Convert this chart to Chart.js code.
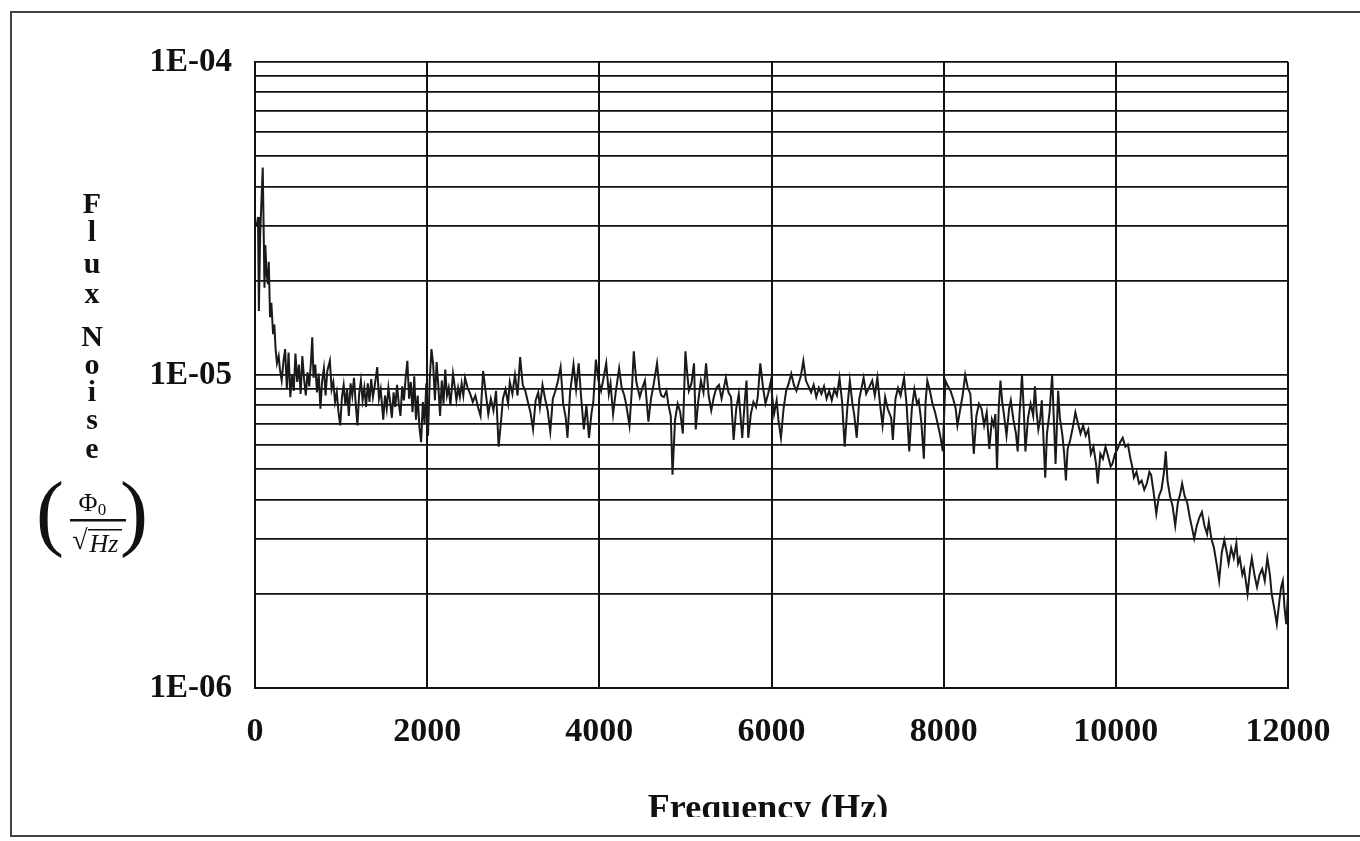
<!DOCTYPE html>
<html>
<head>
<meta charset="utf-8">
<script src="https://cdn.jsdelivr.net/npm/chart.js@4/dist/chart.umd.min.js"></script>
<style>
html,body{margin:0;padding:0;background:#fff;}
canvas{display:block;}
</style>
</head>
<body>
<canvas id="c" width="1360" height="841"></canvas>
<script>
// Frequency (Hz) of each read sample
const freqHz = [
20,35,45,60,75,90,100,110,120,135,150,160,175,190,210,225,240,255,275,290,310,330,350,370,390,410,430,450,470,490,510,530,550,570,590,610,630,650,665,680,700,720,740,760,780,800,820,840,870,890,910,930,950,970,990,1010,1030,1050,1070,1090,1110,1130,1150,1170,1190,1210,1230,1250,1270,1290,1310,1330,1350,1370,1390,1420,1440,1460,1490,1510,1530,1550,1570,1590,1610,1630,1650,1670,1690,1710,1730,1750,1770,1790,1810,1830,1850,1870,1890,1910,1930,1950,1970,1990,2010,2030,2050,2070,2090,2110,2130,2150,2170,2190,2210,2230,2250,2270,2300,2320,2340,2360,2380,2400,2420,2440,
2470,2500,2530,2560,2590,2620,2650,2680,2710,2740,2770,2800,2830,2860,2880,2910,2940,2960,2990,3020,3050,3080,3110,3140,3170,3200,3230,3260,3290,3310,3340,3370,3400,3430,3460,3490,3520,3550,3580,3610,3630,3660,3680,3700,3730,3760,3790,3820,3850,3880,3910,3930,3960,3990,4020,4050,4080,4110,4130,4160,4190,4230,4260,4290,4310,4350,4380,4400,4430,4470,4500,4530,4570,4600,4630,4670,4700,4720,4750,
4780,4800,4830,4850,4880,4910,4940,4970,5000,5020,5040,5070,5100,5120,5150,5180,5210,5240,5270,5300,5330,5360,5390,5420,5450,5470,5500,5530,5560,5590,5620,5640,5660,5690,5710,5730,5760,5790,5820,5840,5870,5900,5930,5960,5990,6030,6060,6080,6110,6140,6170,6200,6230,6260,6290,6320,6340,6370,6400,6430,6460,6490,6520,6550,6580,6610,6640,6670,6700,6730,6760,6790,6820,6850,6880,6910,6940,6960,6990,7020,7050,7070,7100,7140,7170,7200,7230,
7260,7290,7320,7350,7390,7410,7440,7470,7500,7540,7570,7600,7630,7660,7690,7710,7740,7770,7790,7810,7840,7870,7900,7930,7960,7990,8020,8050,8080,8110,8140,8160,8190,8220,8250,8280,8310,8350,8380,8410,8440,8470,8500,8530,8560,8580,8600,8620,8640,8660,8680,8700,8730,8760,8780,8810,8840,8860,8880,8910,8930,8950,8980,9010,9040,9060,9080,9100,9120,9140,9160,9180,9200,9230,9260,9280,9300,9330,9350,9380,9400,9420,9440,9470,9500,9530,9560,
9590,9620,9650,9680,9710,9740,9770,9790,9820,9850,9880,9910,9940,9960,9990,10020,10050,10080,10110,10140,10170,10190,10210,10240,10270,10300,10330,10360,10390,10410,10440,10470,10500,10530,10560,10580,10600,10630,10660,10690,10720,10750,10770,10800,10830,10860,10890,10910,10940,10970,11000,11030,11060,11080,11110,11140,11170,11200,11230,11260,11290,11310,11340,11370,11400,11420,11440,11470,11490,11510,11530,11560,11580,11610,11640,11670,11700,11730,11760,11790,11810,11840,11870,11900,11920,11940,11960,11980,12000
];
// Flux noise in units of 1E-06 Phi0/sqrt(Hz)
const fluxNoiseMicro = [
30,32,16,28,36,46,30,19,26,21,19.5,23,15.3,17,13.5,14.5,12,10.9,11.5,10.4,9.6,11,12.1,9,11.8,8.5,10,8.9,11.7,9.5,10.8,8.7,11.5,9.7,8.6,10.2,9.2,11,13.2,9.8,10.8,8.8,10.1,7.8,9.6,10.5,8.6,10.3,11.1,9,9.5,8.2,8.8,7.6,6.9,8.5,9.3,8,9,7.4,9.4,8.6,9.8,8.1,6.9,8.7,9.6,8.3,9.1,7.9,9.4,8.2,9.7,8.5,9.2,10.6,8.4,9,7.2,8.6,7.8,9.1,8.2,7.3,8.8,7.9,9.3,8.1,7.4,9.2,8.3,9.8,11.1,8.4,9.5,7.6,9.9,7.2,8.6,6.8,6.1,8.2,7,9.4,6.4,9.7,12.1,10.8,8.3,11,9.2,7.4,9.6,8.1,10.4,8.6,9.1,8,10.1,9.2,8.3,9.1,8.5,9.4,8.6,9.8,
9.1,8.7,8.2,8.6,7.9,7.4,10.3,8.8,7.5,8.4,7.7,8.9,5.9,7.2,8.4,9,8.1,9.5,8.7,10,8.6,11.4,9.3,8.9,8.2,7.6,6.7,8.3,8.8,7.9,9.3,8.4,7.7,6.6,8.4,8.9,9.6,10.6,8.1,7.3,6.3,8.8,9.7,10.8,9,10.9,8.4,6.7,8,6.3,7.6,8.2,11.2,9.6,8.9,9.8,10.9,8.7,9.4,7.5,8.8,10.5,9.1,8.6,8.1,6.9,9.2,11.9,9.5,8.5,9.1,9.6,7.1,8.4,9.3,10.9,9,8.6,8.5,
8.9,8.1,7.4,4.8,7.2,8.1,7.6,6.5,11.9,10.2,8.9,9.4,10.9,6.7,8.3,9.6,8.8,10.9,8.6,7.7,8.5,9.1,9.3,8.4,9.2,9.8,8.8,8.5,6.2,7.8,8.7,7.4,6.3,8.3,9.6,6.3,7.5,8.2,7.9,8.5,10.9,9.2,8.1,8.7,9.5,7.5,8.3,7.2,6.3,7.8,8.9,9.4,10.1,9.3,8.9,9.5,9.9,11.1,9.6,9.2,8.8,9.3,8.5,9.1,8.7,9.2,8.4,8.9,8.3,9,8.6,9.8,8.2,5.9,7.8,9.6,8.1,7.5,6.3,8.4,9.2,9.8,8.7,9.2,9.6,8.6,9.8,
8.1,6.9,8.5,7.8,7.3,6.2,8.4,9.1,8.6,9.8,8,5.7,7.8,9,8.1,8.3,7.1,5.4,8.2,9.6,8.9,8.1,7.6,7,6.4,5.7,9.6,9.2,8.9,8.4,7.8,6.9,7.7,8.6,10,9.1,8.7,5.6,7.4,8.1,7.8,6.9,7.6,5.8,7.2,6.9,7.5,5,7.9,9.6,8.2,7.5,6.4,7.8,8.3,7.2,6.5,5.7,7.4,10,7.8,5.7,7.3,8.1,7.4,9.2,7.6,6.7,7.2,8.3,6.2,4.7,6.5,7.6,10,7.2,5.2,8.9,7.3,6.4,5.6,4.6,5.8,6.2,6.8,7.6,7,
6.5,6.9,6.4,6.7,5.6,5.9,5.2,4.5,5.6,5.4,5.9,5.5,5.1,5.2,5.6,5.8,6.1,6.3,5.9,6,5.4,5.1,4.7,4.9,4.5,4.6,4.3,4.5,4.9,4.8,4.2,3.6,4.1,4.3,4.9,5.7,4.6,4.1,3.8,3.3,3.9,4.2,4.5,4.1,3.9,3.5,3.2,3.0,3.3,3.5,3.65,3.3,3.1,3.4,3.0,2.8,2.5,2.2,2.7,2.97,2.7,2.5,2.8,2.6,2.9,2.5,2.6,2.3,2.4,2.2,2.0,2.4,2.6,2.3,2.1,2.3,2.4,2.2,2.6,2.3,2.0,1.8,1.6,1.9,2.1,2.2,1.8,1.6,2.0
];
const xTickValues = [0,2000,4000,6000,8000,10000,12000];
const yDecades = [1e-6,1e-5,1e-4];
const yTickLabels = ['1E-06','1E-05','1E-04'];
const yMinorMultiples = [1,2,3,4,5,6,7,8,9];
const xAxisTitle = 'Frequency (Hz)';
const yAxisTitleLetters = ['F','l','u','x','N','o','i','s','e'];

const points = freqHz.map((f,i)=>({x:f, y:fluxNoiseMicro[i]*1e-6}));

const serif = "'Liberation Serif','DejaVu Serif',serif";
const PLOT = {left:255, right:1288, top:62, bottom:688};

const decorPlugin = {
  id:'decor',
  afterDraw(chart){
    const ctx = chart.ctx;
    ctx.save();
    // outer frame
    ctx.strokeStyle = '#444';
    ctx.lineWidth = 2;
    ctx.beginPath();
    ctx.moveTo(1360,12); ctx.lineTo(11,12); ctx.lineTo(11,836); ctx.lineTo(1360,836);
    ctx.stroke();
    // x-axis title (clipped at bottom like the reference)
    ctx.save();
    ctx.beginPath(); ctx.rect(0,780,1360,37); ctx.clip();
    ctx.fillStyle = '#111';
    ctx.font = 'bold 36px ' + serif;
    ctx.textAlign = 'center'; ctx.textBaseline = 'alphabetic';
    ctx.fillText(xAxisTitle, 768, 819);
    ctx.restore();
    // y-axis title stacked letters
    ctx.fillStyle = '#111';
    ctx.font = 'bold 30px ' + serif;
    ctx.textAlign = 'center'; ctx.textBaseline = 'middle';
    const ys = [205,233,265,295,338,366,393,421,450];
    yAxisTitleLetters.forEach((ch,i)=>ctx.fillText(ch, 92, ys[i]));
    // units fraction with parentheses
    ctx.font = '84px ' + serif;
    ctx.textBaseline = 'middle';
    ctx.fillText('(', 50, 518);
    ctx.fillText(')', 134, 518);
    ctx.font = '26px ' + serif;
    ctx.fillText('\u03A6', 88, 504);
    ctx.font = '17px ' + serif;
    ctx.fillText('0', 102, 511);
    ctx.fillRect(70, 519, 56, 2.5);
    ctx.font = 'italic 26px ' + serif;
    ctx.fillText('Hz', 104, 545);
    ctx.font = '28px ' + serif;
    ctx.fillText('\u221A', 80, 542);
    ctx.fillRect(88, 529, 34, 1.5);
    ctx.restore();
  }
};

new Chart(document.getElementById('c'), {
  type:'line',
  data:{ datasets:[{
    data: points,
    borderColor:'#1a1a1a',
    borderWidth:2,
    pointRadius:0,
    tension:0,
    fill:false
  }]},
  options:{
    responsive:false,
    animation:false,
    devicePixelRatio:1,
    layout:{padding:{top:PLOT.top, right:1360-PLOT.right, left:0, bottom:0}},
    plugins:{legend:{display:false}, tooltip:{enabled:false}},
    scales:{
      x:{
        type:'linear', min:0, max:12000,
        afterBuildTicks(s){ s.ticks = xTickValues.map(v=>({value:v})); },
        afterFit(s){ s.height = 841 - PLOT.bottom; },
        grid:{color:'#111', lineWidth:2, drawTicks:false},
        border:{color:'#111', width:2},
        ticks:{ color:'#111', padding:24, maxRotation:0, autoSkip:false,
          font:{family:serif, size:34, weight:'bold'},
          callback:(v)=>String(v) }
      },
      y:{
        type:'logarithmic', min:1e-6, max:1e-4,
        afterBuildTicks(s){
          const t = [];
          yDecades.slice(0,2).forEach(d=>yMinorMultiples.forEach(m=>t.push({value:m*d})));
          t.push({value:yDecades[2]});
          s.ticks = t;
        },
        afterFit(s){ s.width = PLOT.left; },
        grid:{color:'#111', lineWidth:1.8, drawTicks:false},
        border:{color:'#111', width:2},
        ticks:{ color:'#111', padding:23, autoSkip:false,
          font:{family:serif, size:33, weight:'bold'},
          callback:(v)=>{
            const i = yDecades.findIndex(d=>Math.abs(v-d)/d < 1e-6);
            return i>=0 ? yTickLabels[i] : '';
          } }
      }
    }
  },
  plugins:[decorPlugin]
});
</script>
</body>
</html>
